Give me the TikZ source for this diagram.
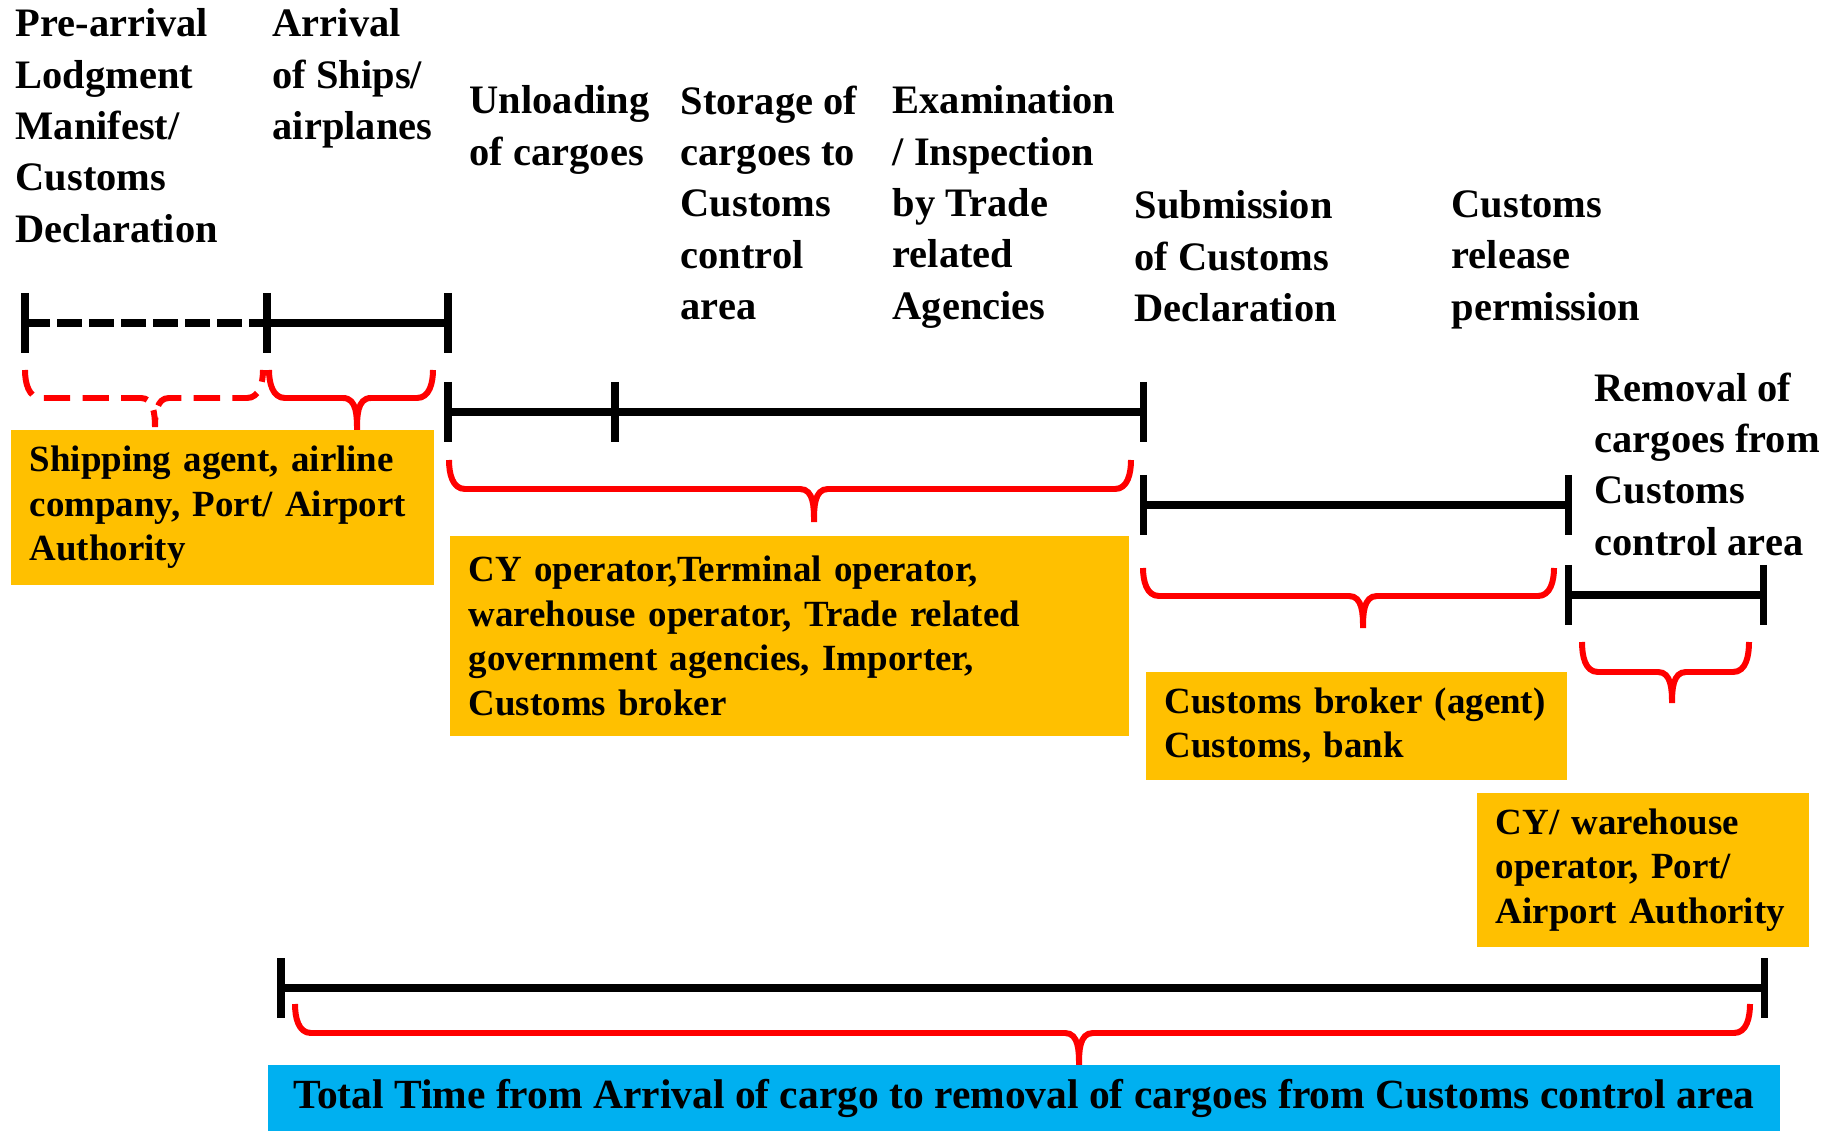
\documentclass[tikz,border=0pt]{standalone}
\usepackage{fontspec}
\setmainfont{Liberation Serif}
\usetikzlibrary{positioning}
\definecolor{boxorange}{HTML}{FFC000}
\definecolor{boxblue}{HTML}{00B0F0}
% red curly brace: [opts]{left}{right}{tip x}{top}{line}{tip}
\newcommand{\curly}[7][]{%
  \draw[curly,#1] (#2,-#5) to[out=-90,in=180] ({#2+16},-#6) -- ({#4-14},-#6)
    to[out=0,in=90] (#4,-#7) to[out=90,in=180] ({#4+14},-#6) -- ({#3-16},-#6)
    to[out=0,in=-90] (#3,-#5);}
\begin{document}
\begin{tikzpicture}
  [x=0.01cm,y=0.01cm,
   head/.style ={anchor=north west,inner sep=0,align=left,
                 font=\bfseries\fontsize{11.5}{14.6}\selectfont},
   ybox/.style ={fill=boxorange,anchor=north west,align=left,inner xsep=0.19cm,inner ysep=0,
                 font=\bfseries\fontsize{10.5}{12.66}\selectfont},
   bar/.style  ={line width=2pt},
   curly/.style={red,line width=1.7pt}]
  \useasboundingbox (0,0) rectangle (1837,-1131);

  % headings
  \node[head] (prearr) at (15,-8) {Pre-arrival\\Lodgment\\Manifest/\\Customs\\Declaration};
  \node[head] (arrival) at (272,-8) {Arrival\\of Ships/\\airplanes};
  \node[head] (unload) at (469,-85) {Unloading\\of cargoes};
  \node[head] (storage) at (680,-85) {Storage of\\cargoes to\\Customs\\control\\area};
  \node[head] (exam) at (892,-85) {Examination\\/ Inspection\\by Trade\\related\\Agencies};
  \node[head] (submit) at (1134,-190) {Submission\\of Customs\\Declaration};
  \node[head] (release) at (1451,-190) {Customs\\release\\permission};
  \node[head] (removal) at (1594,-372) {Removal of\\cargoes from\\Customs\\control area};

  % time bars
  \draw[bar,dash pattern=on 7.1pt off 2pt] (25,-323) -- (267,-323);
  \draw[bar] (267,-323) -- (448,-323);
  \foreach \x in {25,267,448} \draw[bar] (\x,-293) -- (\x,-353);
  \draw[bar] (448,-412) -- (1143,-412);
  \foreach \x in {448,615,1143} \draw[bar] (\x,-382) -- (\x,-442);
  \draw[bar] (1143,-505) -- (1568,-505);
  \foreach \x in {1143,1568} \draw[bar] (\x,-475) -- (\x,-535);
  \draw[bar] (1568,-595) -- (1763,-595);
  \foreach \x in {1568,1763} \draw[bar] (\x,-565) -- (\x,-625);
  \draw[bar] (281,-988) -- (1764,-988);
  \foreach \x in {281,1764} \draw[bar] (\x,-958) -- (\x,-1018);

  % braces
  \curly[dash pattern=on 7.5pt off 3.5pt]{25}{263}{155}{370}{398}{427}
  \curly{269}{433}{357}{370}{398}{432}
  \curly{449}{1131}{814}{460}{489}{522}
  \curly{1143}{1554}{1363}{568}{596}{628}
  \curly{1582}{1749}{1672}{642}{672}{703}
  \curly{295}{1750}{1079}{1004}{1033}{1066}

  % who is involved
  \node[ybox,text width=3.85cm,minimum height=1.55cm] (agents) at (10,-429)
    {Shipping agent, airline\\company, Port/ Airport\\Authority};
  \node[ybox,text width=6.41cm,minimum height=2cm] (operators) at (449,-535)
    {CY operator,Terminal operator,\\warehouse operator, Trade related\\government agencies, Importer,\\Customs broker};
  \node[ybox,text width=3.83cm,minimum height=1.08cm] (broker) at (1145,-671)
    {Customs broker (agent)\\Customs, bank};
  \node[ybox,text width=2.94cm,minimum height=1.54cm] (warehouse) at (1476,-792)
    {CY/ warehouse\\operator, Port/\\Airport~Authority};
  \node[fill=boxblue,anchor=north west,minimum width=15.11cm,minimum height=0.67cm,inner sep=0,
        font=\bfseries\fontsize{11.8}{14}\selectfont] (total) at (267,-1064)
    {Total Time from Arrival of cargo to removal of cargoes from Customs control area};
\end{tikzpicture}
\end{document}
